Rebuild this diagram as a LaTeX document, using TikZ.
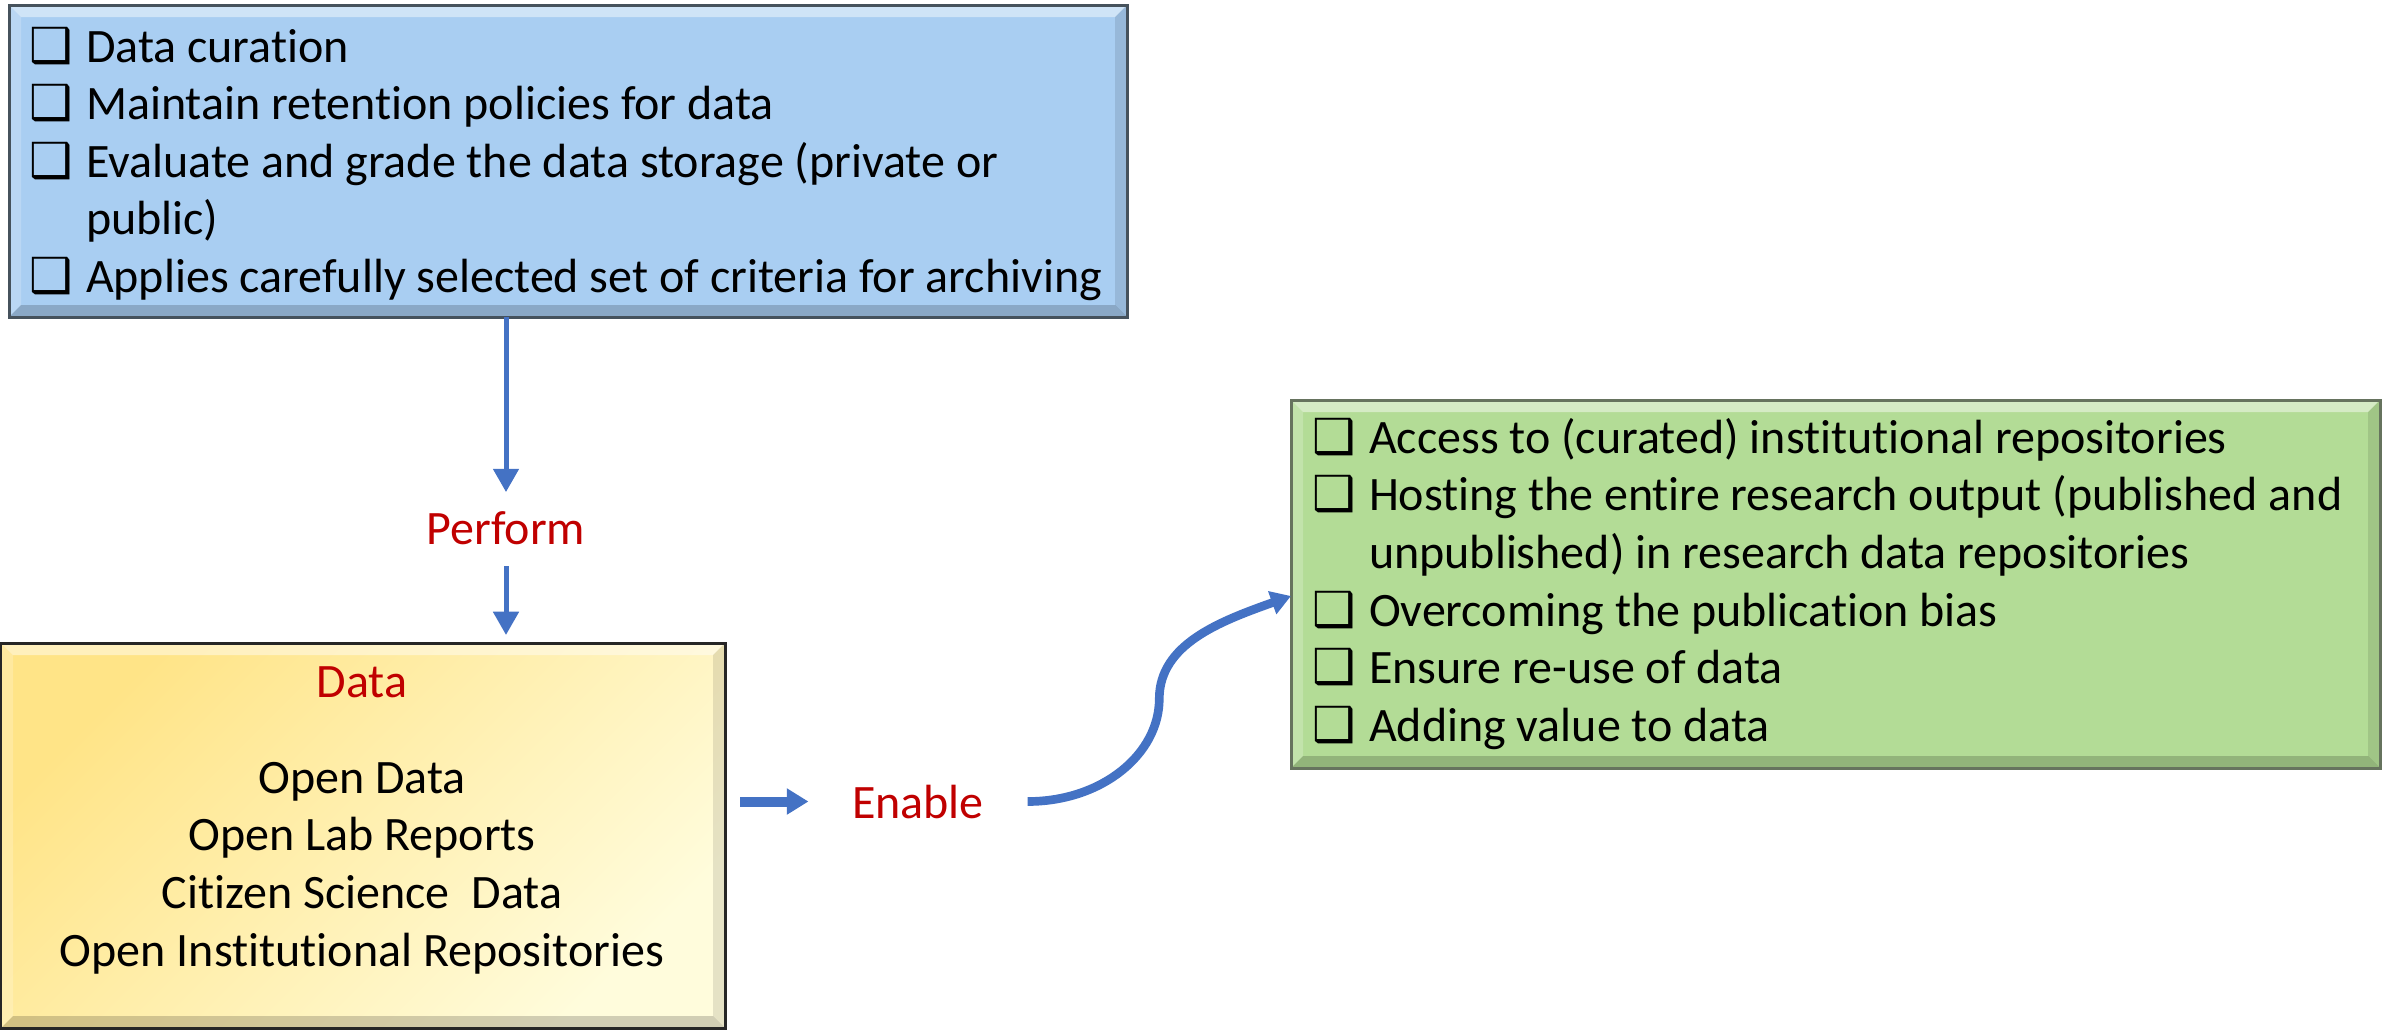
\documentclass[tikz,border=0pt]{standalone}
\usepackage{fontspec}
\setmainfont{Carlito}[Ligatures=NoCommon]
\newfontfamily\djv{DejaVu Sans}
\usetikzlibrary{arrows.meta,calc}
\definecolor{arrblue}{HTML}{4472C4}
\definecolor{lblred}{HTML}{C00000}
\definecolor{bluefill}{HTML}{A9CEF2}
\definecolor{blueline}{HTML}{46525C}
\definecolor{greenfill}{HTML}{B3DC96}
\definecolor{greenline}{HTML}{66735E}
\definecolor{yelA}{HTML}{FFE487}
\definecolor{yelB}{HTML}{FFFCDC}
\newcommand{\cbx}{\makebox[16.9pt][l]{\djv\fontsize{14.5}{14.5}\selectfont ❑}}
\newcommand{\cbind}{\hspace*{16.9pt}}
\tikzset{
  bevel/.style={path picture={
    \fill[white,opacity=.45] (path picture bounding box.north west) -- (path picture bounding box.north east)
      -- ([shift={(-3.6pt,-3.6pt)}]path picture bounding box.north east) -- ([shift={(3.6pt,-3.6pt)}]path picture bounding box.north west) -- cycle;
    \fill[white,opacity=.2] (path picture bounding box.north west) -- ([shift={(3.6pt,-3.6pt)}]path picture bounding box.north west)
      -- ([shift={(3.6pt,3.6pt)}]path picture bounding box.south west) -- (path picture bounding box.south west) -- cycle;
    \fill[black,opacity=.18] (path picture bounding box.south west) -- (path picture bounding box.south east)
      -- ([shift={(-3.6pt,3.6pt)}]path picture bounding box.south east) -- ([shift={(3.6pt,3.6pt)}]path picture bounding box.south west) -- cycle;
    \fill[black,opacity=.1] (path picture bounding box.north east) -- ([shift={(-3.6pt,-3.6pt)}]path picture bounding box.north east)
      -- ([shift={(-3.6pt,3.6pt)}]path picture bounding box.south east) -- (path picture bounding box.south east) -- cycle;
  }},
  panel/.style={rectangle, anchor=north west, inner sep=0pt, outer sep=0pt, line width=0.9pt, bevel},
  listtext/.style={inner sep=0pt, anchor=base west},
  lbl/.style={text=lblred, inner sep=0pt, anchor=base},
  arr/.style={draw=arrblue, line width=1.5pt, -{Triangle[length=7pt,width=7.5pt]}},
  arrthick/.style={draw=arrblue, line width=3pt, -{Triangle[length=6.5pt,width=7.5pt]}},
  arrcurve/.style={draw=arrblue, line width=2.6pt, -{Triangle[length=6pt,width=7pt]}},
}
\begin{document}
\begin{tikzpicture}[x=0.3pt,y=-0.3pt, font=\fontsize{14.4}{17.3}\selectfont]
\useasboundingbox (0,0) rectangle (2389,1029);

% boxes
\node[panel, draw=blueline, fill=bluefill, minimum width=335.4pt, minimum height=93.6pt] (blue) at (9,5) {};
\node[panel, draw=black!85, left color=yelA, right color=yelB, shading angle=45, minimum width=217.2pt, minimum height=115.5pt] (yellow) at (1,643) {};
\node[panel, draw=greenline, fill=greenfill, minimum width=326.7pt, minimum height=110.4pt] (green) at (1291,400) {};

% texts
\node[listtext] (bluetext) at (29,62) {\begin{tabular}[t]{@{}l@{}}
\cbx Data curation\\
\cbx Maintain retention policies for data\\
\cbx Evaluate and grade the data storage (private or\\
\cbind public)\\
\cbx Applies carefully selected set of criteria for archiving
\end{tabular}};

\node[listtext] (greentext) at (1312,453) {\begin{tabular}[t]{@{}l@{}}
\cbx Access to (curated) institutional repositories\\
\cbx Hosting the entire research output (published and\\
\cbind unpublished) in research data repositories\\
\cbx Overcoming the publication bias\\
\cbx Ensure re-use of data\\
\cbx Adding value to data
\end{tabular}};

\node[inner sep=0pt, anchor=base] (yellowtext) at (362,697) {\begin{tabular}[t]{@{}c@{}}
{\color{lblred}Data}\\[11.5pt]
Open Data\\
Open Lab Reports\\
Citizen Science\ \ Data\\
Open Institutional Repositories
\end{tabular}};

% labels
\node[lbl] (perform) at (506,544) {Perform};
\node[lbl, inner xsep=12.9pt] (enable) at (918,818) {Enable};
\coordinate (gin) at ([yshift=-3.6pt]green.west);

% connectors
\draw[arr, shorten >=5.5pt] (blue.south -| perform.north) -- (perform.north);
\draw[arr, shorten <=6.3pt, shorten >=2.4pt] (perform.south) -- (perform.south |- yellow.north);
\draw[arrthick, shorten <=4.5pt] (yellow.east |- enable) -- (enable.west);
\draw[arrcurve] (enable.east) .. controls +(75,0) and +(0,55) .. ($(enable.east)!.5!(gin)$) .. controls +(0,-55) and +(-70,25) .. (gin);
\end{tikzpicture}
\end{document}
